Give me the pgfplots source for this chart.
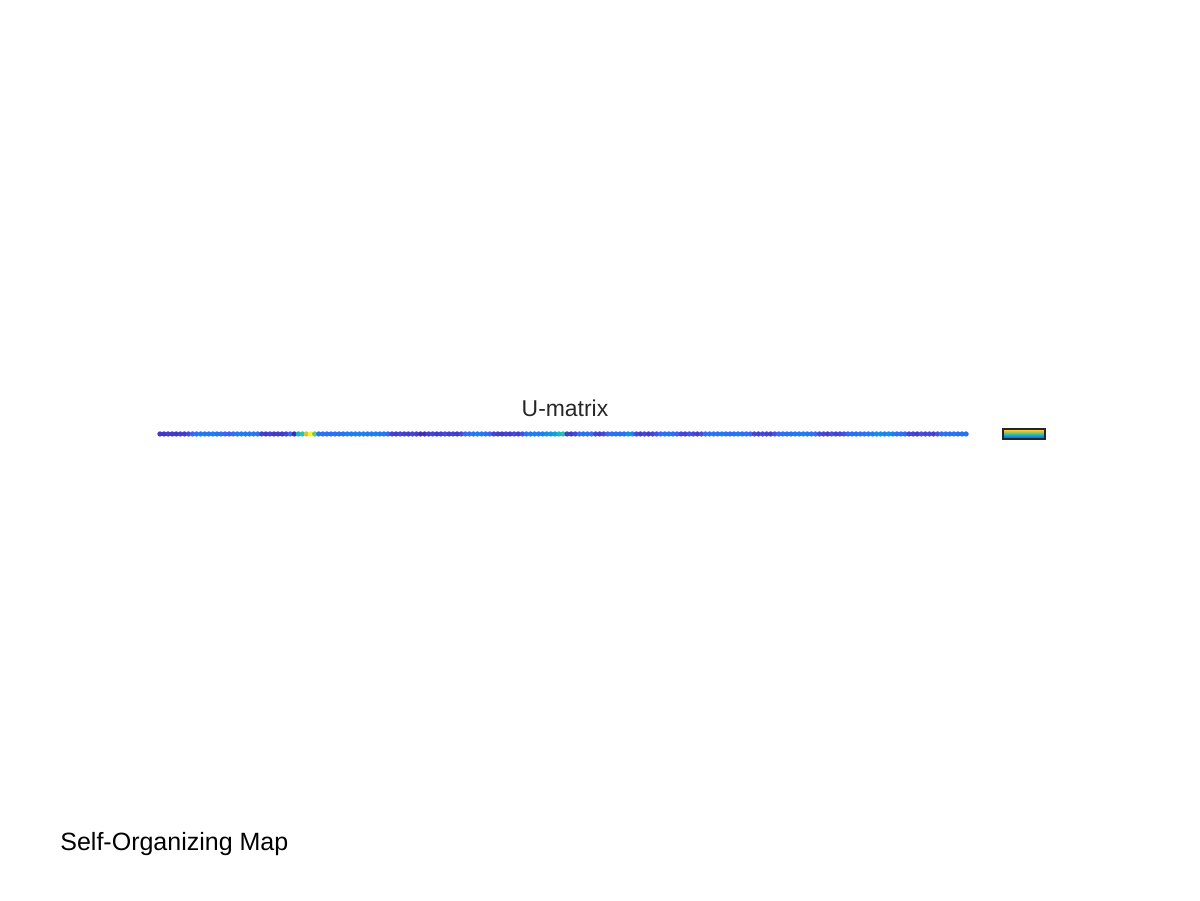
\documentclass[border=0pt]{standalone}
\usepackage{pgfplots}
\pgfplotsset{compat=1.18}
\usepackage{fontspec}
\setmainfont{Liberation Sans}
\definecolor{titlegray}{rgb}{0.15,0.15,0.15}
\pgfplotsset{colormap={parula}{
 rgb=(0.2422,0.1504,0.6603)
 rgb=(0.2791,0.3499,0.9787)
 rgb=(0.1100,0.4900,0.9600)
 rgb=(0.0300,0.6700,0.8400)
 rgb=(0.1800,0.7500,0.6800)
 rgb=(0.4400,0.7900,0.4300)
 rgb=(0.7900,0.7600,0.2500)
 rgb=(0.9900,0.7600,0.2300)
 rgb=(0.9763,0.9831,0.0538)}}
\pgfplotstableread{
x y m
1 0 0.05
2 0 0.04
3 0 0.06
4 0 0.05
5 0 0.04
6 0 0.06
7 0 0.05
8 0 0.08
9 0 0.15
10 0 0.22
11 0 0.24
12 0 0.22
13 0 0.23
14 0 0.25
15 0 0.22
16 0 0.20
17 0 0.15
18 0 0.14
19 0 0.20
20 0 0.23
21 0 0.25
22 0 0.22
23 0 0.24
24 0 0.23
25 0 0.20
26 0 0.06
27 0 0.05
28 0 0.07
29 0 0.05
30 0 0.06
31 0 0.05
32 0 0.07
33 0 0.16
34 0 0.01
35 0 0.42
36 0 0.50
37 0 0.78
38 0 1.00
39 0 0.62
40 0 0.22
41 0 0.20
42 0 0.21
43 0 0.19
44 0 0.20
45 0 0.22
46 0 0.21
47 0 0.25
48 0 0.24
49 0 0.26
50 0 0.25
51 0 0.27
52 0 0.24
53 0 0.25
54 0 0.26
55 0 0.24
56 0 0.25
57 0 0.18
58 0 0.07
59 0 0.06
60 0 0.08
61 0 0.06
62 0 0.05
63 0 0.07
64 0 0.06
65 0 0.02
66 0 0.02
67 0 0.06
68 0 0.07
69 0 0.05
70 0 0.06
71 0 0.08
72 0 0.06
73 0 0.07
74 0 0.05
75 0 0.08
76 0 0.18
77 0 0.20
78 0 0.22
79 0 0.25
80 0 0.24
81 0 0.20
82 0 0.16
83 0 0.07
84 0 0.06
85 0 0.05
86 0 0.07
87 0 0.06
88 0 0.08
89 0 0.06
90 0 0.10
91 0 0.22
92 0 0.24
93 0 0.25
94 0 0.24
95 0 0.26
96 0 0.30
97 0 0.32
98 0 0.35
99 0 0.45
100 0 0.48
101 0 0.06
102 0 0.05
103 0 0.08
104 0 0.20
105 0 0.22
106 0 0.21
107 0 0.18
108 0 0.07
109 0 0.06
110 0 0.08
111 0 0.18
112 0 0.21
113 0 0.22
114 0 0.20
115 0 0.22
116 0 0.30
117 0 0.28
118 0 0.08
119 0 0.06
120 0 0.07
121 0 0.05
122 0 0.07
123 0 0.10
124 0 0.20
125 0 0.22
126 0 0.23
127 0 0.21
128 0 0.14
129 0 0.08
130 0 0.07
131 0 0.10
132 0 0.08
133 0 0.06
134 0 0.09
135 0 0.18
136 0 0.21
137 0 0.23
138 0 0.20
139 0 0.24
140 0 0.22
141 0 0.19
142 0 0.22
143 0 0.25
144 0 0.21
145 0 0.20
146 0 0.17
147 0 0.07
148 0 0.06
149 0 0.08
150 0 0.07
151 0 0.06
152 0 0.10
153 0 0.18
154 0 0.20
155 0 0.22
156 0 0.21
157 0 0.23
158 0 0.24
159 0 0.26
160 0 0.24
161 0 0.20
162 0 0.18
163 0 0.08
164 0 0.07
165 0 0.06
166 0 0.09
167 0 0.07
168 0 0.08
169 0 0.10
170 0 0.18
171 0 0.20
172 0 0.22
173 0 0.21
174 0 0.20
175 0 0.23
176 0 0.24
177 0 0.28
178 0 0.30
179 0 0.27
180 0 0.29
181 0 0.26
182 0 0.20
183 0 0.21
184 0 0.18
185 0 0.08
186 0 0.07
187 0 0.06
188 0 0.09
189 0 0.07
190 0 0.08
191 0 0.06
192 0 0.10
193 0 0.20
194 0 0.22
195 0 0.21
196 0 0.23
197 0 0.20
198 0 0.22
199 0 0.21
}\umat
\begin{document}
\begin{tikzpicture}
\path[use as bounding box] (0,0) rectangle (576pt,432pt);
\begin{axis}[
  at={(75.8pt,221.3pt)}, anchor=south west,
  scale only axis, width=388.9pt, height=4.8pt,
  xmin=0.5, xmax=199.5, ymin=-1, ymax=1,
  hide axis, clip=false,
  colormap name=parula,
  point meta min=0, point meta max=1,
  colorbar,
  colorbar/width=20.2pt,
  colorbar shift/.style={},
  colorbar style={
    at={(parent axis.north east)}, anchor=north west, xshift=16.7pt,
    height=4.8pt,
    ytick=\empty, xtick=\empty,
    axis line style={draw=titlegray, line width=0.7pt},
  },
]
\addplot[scatter, only marks, mark=*, mark size=1.05pt, point meta=explicit,
  scatter/use mapped color={draw=mapped color, fill=mapped color}]
  table[x=x, y=y, meta=m] {\umat};
\end{axis}
\node[anchor=base, inner sep=0, text=titlegray, font=\fontsize{11pt}{13pt}\selectfont] at (271.2pt,232.3pt) {U-matrix};
\node[anchor=base west, inner sep=0, text=black, font=\fontsize{12pt}{14pt}\selectfont] at (28.8pt,24.0pt) {Self-Organizing Map};
\end{tikzpicture}
\end{document}
